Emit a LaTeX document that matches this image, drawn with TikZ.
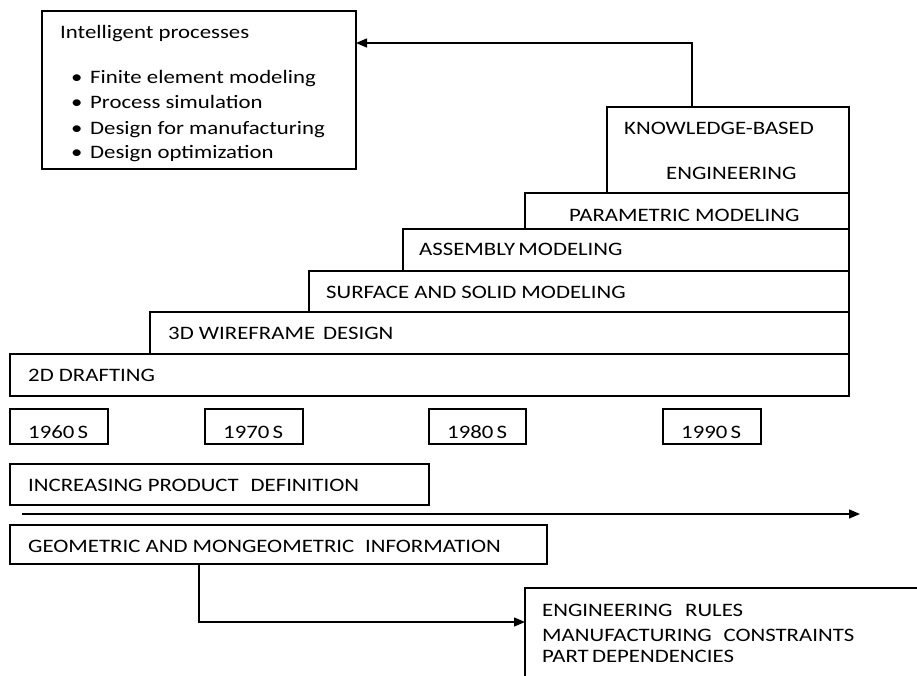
\documentclass[tikz,border=0pt]{standalone}
\usepackage{fontspec}
\setmainfont{Carlito}[FakeStretch=1.2]
\usetikzlibrary{arrows.meta}
\begin{document}
\begin{tikzpicture}[x=1pt,y=-1pt,
  box/.style={draw, line width=1.4pt, inner sep=0pt, outer sep=0pt, anchor=north west},
  lbl/.style={anchor=base west, inner sep=0pt, font=\fontsize{19}{22}\selectfont},
  conn/.style={line width=1.4pt, -{Triangle[length=11pt,width=9pt]}}]
\useasboundingbox (0,0) rectangle (917,675);
% boxes
\node[box, minimum width=314pt, minimum height=158pt] (intel) at (42,11) {};
\node[box, minimum width=242pt, minimum height=86pt] (kbe) at (607,107) {};
\node[box, minimum width=324pt, minimum height=36pt] (param) at (525,193) {};
\node[box, minimum width=446pt, minimum height=42pt] (assem) at (403,229) {};
\node[box, minimum width=540pt, minimum height=41pt] (surf) at (309,271) {};
\node[box, minimum width=699pt, minimum height=42pt] (wire) at (150,312) {};
\node[box, minimum width=839pt, minimum height=42pt] (draft) at (10,354) {};
\node[box, minimum width=98pt, minimum height=35pt] (y60) at (10,409) {};
\node[box, minimum width=98pt, minimum height=35pt] (y70) at (205,409) {};
\node[box, minimum width=97pt, minimum height=35pt] (y80) at (429,409) {};
\node[box, minimum width=98pt, minimum height=35pt] (y90) at (663,409) {};
\node[box, minimum width=419pt, minimum height=41pt] (incr) at (10,464) {};
\node[box, minimum width=537pt, minimum height=39pt] (geom) at (10,525) {};
\begin{scope}
\clip (0,0) rectangle (917,675);
\node[box, minimum width=500pt, minimum height=200pt] (eng) at (525,588) {};
\end{scope}
% texts
\node[lbl] (t0) at (60,38) {Intelligent processes};
\node[lbl] (b1) at (71,83) {•};
\node[lbl] (b2) at (71,108) {•};
\node[lbl] (b3) at (71,134) {•};
\node[lbl] (b4) at (71,158) {•};
\node[lbl] (t1) at (90,83) {Finite element modeling};
\node[lbl] (t2) at (90,108) {Process simulation};
\node[lbl] (t3) at (90,134) {Design for manufacturing};
\node[lbl] (t4) at (90,158) {Design optimization};
\node[lbl] (k1) at (624,134) {KNOWLEDGE-BASED};
\node[lbl] (k2) at (666,179) {ENGINEERING};
\node[lbl] (tp) at (569,221) {PARAMETRIC MODELING};
\node[lbl] (ta) at (419,255) {ASSEMBLY\hspace{-0.1em} MODELING};
\node[lbl] (ts) at (326,298) {SURFACE AND SOLID MODELING};
\node[lbl] (tw) at (168,339) {3D WIREFRAME\hspace{0.15em} DESIGN};
\node[lbl] (td) at (28,381) {2D DRAFTING};
\node[lbl] (l60) at (28,438) {1960\hspace{-0.1em} S};
\node[lbl] (l70) at (223,438) {1970\hspace{-0.1em} S};
\node[lbl] (l80) at (447,438) {1980\hspace{-0.1em} S};
\node[lbl] (l90) at (681,438) {1990\hspace{-0.1em} S};
\node[lbl] (ti) at (28,491) {INCREASING PRODUCT\hspace{0.35em} DEFINITION};
\node[lbl] (tg) at (28,552) {GEOMETRIC AND MONGEOMETRIC\hspace{0.3em} INFORMATION};
\node[lbl] (e1) at (542,616) {ENGINEERING\hspace{0.4em} RULES};
\node[lbl] (e2) at (542,641) {MANUFACTURING\hspace{0.35em} CONSTRAINTS};
\node[lbl] (e3) at (542,662) {PART\hspace{-0.1em} DEPENDENCIES};
% connectors
\coordinate (kt) at (692,107);
\coordinate (c1) at (692,43);
\draw[conn] (kt) -- (c1) -- (intel.east |- c1);
\coordinate (a0) at (22,514);
\coordinate (a1) at (860,514);
\draw[conn] (a0) -- (a1);
\coordinate (g0) at (199,564);
\coordinate (g1) at (199,622);
\draw[conn] (g0) -- (g1) -- (eng.west |- g1);
\end{tikzpicture}
\end{document}
